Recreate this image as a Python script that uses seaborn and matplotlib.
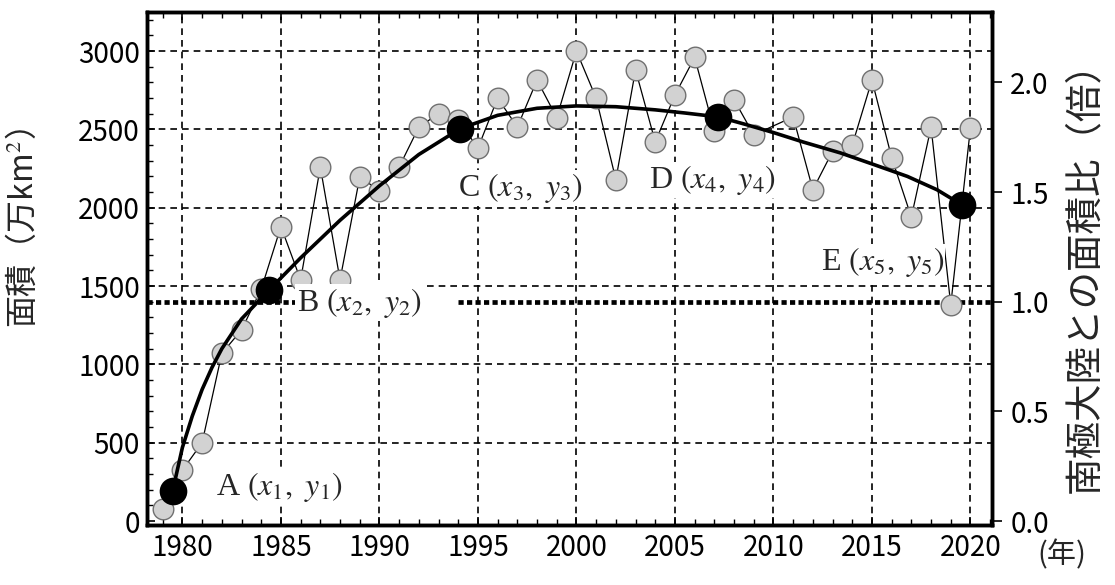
import numpy as np
import seaborn as sns
import matplotlib.pyplot as plt
from matplotlib.ticker import MultipleLocator

# annual values (2010 not visible in the scan)
years = [1979, 1980, 1981, 1982, 1983, 1984, 1985, 1986, 1987, 1988,
         1989, 1990, 1991, 1992, 1993, 1994, 1995, 1996, 1997, 1998,
         1999, 2000, 2001, 2002, 2003, 2004, 2005, 2006, 2007, 2008,
         2009, 2011, 2012, 2013, 2014, 2015, 2016, 2017, 2018, 2019, 2020]
area = [80, 325, 500, 1070, 1220, 1480, 1880, 1540, 2260, 1540,
        2195, 2110, 2260, 2515, 2600, 2560, 2380, 2700, 2515, 2815,
        2575, 3000, 2700, 2180, 2880, 2420, 2720, 2960, 2490, 2690,
        2465, 2580, 2115, 2360, 2400, 2815, 2320, 1940, 2515, 1380, 2510]

# smooth trend curve, read at several points
fit_x = [1979.5, 1980.0, 1980.5, 1981.0, 1981.5, 1982.0, 1983.0, 1984.4,
         1986.0, 1988.0, 1990.0, 1992.0, 1994.1, 1996.0, 1998.0,
         2000.0, 2002.0, 2004.0, 2005.5, 2007.2, 2008.5, 2010.0, 2011.5,
         2013.4, 2015.0, 2016.8, 2018.3, 2019.55]
fit_y = [190, 470, 670, 840, 980, 1100, 1290, 1475,
         1680, 1920, 2140, 2340, 2505, 2590, 2635,
         2650, 2645, 2625, 2605, 2580, 2535, 2480, 2420,
         2350, 2280, 2200, 2115, 2020]

# points A-E
key_names = ['A', 'B', 'C', 'D', 'E']
key_x = [1979.5, 1984.4, 1994.1, 2007.2, 2019.55]
key_y = [190, 1475, 2505, 2580, 2020]
label_x = [1981.7, 1985.8, 1994.0, 2003.7, 2012.4]
label_y = [217, 1395, 2126, 2177, 1654]

antarctica = 1400  # ratio 1.0

sns.set_style('ticks')
plt.rcParams['font.family'] = ['Noto Sans CJK JP', 'DejaVu Sans']
plt.rcParams['mathtext.fontset'] = 'stix'

fig = plt.figure(figsize=(11.15, 5.85), dpi=100)
ax = fig.add_axes([0.1318, 0.1026, 0.758, 0.877])

ax.set_xlim(1978.2, 2021.1)
ax.set_ylim(-25, 3250)

# grid
for v in range(500, 3001, 500):
    ax.axhline(v, color='black', lw=1.2, ls=(0, (4, 3)), zorder=1)
for v in range(1980, 2021, 5):
    ax.axvline(v, color='black', lw=1.2, ls=(0, (4, 3)), zorder=1)
# antarctic continent area (ratio 1.0), broken behind label B
ax.hlines([antarctica, antarctica], [1978.2, 1994.0], [1985.9, 2021.1],
          color='black', lw=3.4, ls=(0, (1.1, 0.7)), zorder=1)

sns.lineplot(x=years, y=area, ax=ax, color='black', lw=0.9, zorder=2)
sns.scatterplot(x=years, y=area, ax=ax, s=220, color='#d2d2d2',
                edgecolor='#707070', linewidth=1.0, zorder=3)
sns.lineplot(x=fit_x, y=fit_y, ax=ax, color='black', lw=2.6, zorder=4)
sns.scatterplot(x=key_x, y=key_y, ax=ax, s=340, color='black',
                edgecolor='black', zorder=5)

for i, n in enumerate(key_names):
    ax.text(label_x[i], label_y[i], n + r' $(x_{%d},\ y_{%d})$' % (i + 1, i + 1),
            family='Liberation Serif', fontsize=23, va='center', ha='left',
            zorder=6, bbox=dict(facecolor='white', edgecolor='none', pad=1.0))

ax.set_xticks(range(1980, 2021, 5))
ax.set_yticks(range(0, 3001, 500))
ax.xaxis.set_minor_locator(MultipleLocator(1))
ax.yaxis.set_minor_locator(MultipleLocator(100))
ax.tick_params(axis='both', which='major', direction='in', length=6, width=1.2,
               labelsize=20, top=True, colors='black')
ax.tick_params(axis='both', which='minor', direction='in', length=4, width=1,
               top=True, colors='black')
ax.tick_params(axis='x', pad=6)
ax.tick_params(axis='y', pad=5)
for s in ax.spines.values():
    s.set_linewidth(2.5)
    s.set_color('black')

ax2 = ax.twinx()
ax2.set_ylim(-25 / antarctica, 3250 / antarctica)
ax2.set_yticks([0, 0.5, 1.0, 1.5, 2.0])
ax2.set_yticklabels(['0.0', '0.5', '1.0', '1.5', '2.0'])
ax2.tick_params(axis='y', direction='out', length=7, width=1.2, labelsize=20,
                colors='black', pad=6)
for s in ax2.spines.values():
    s.set_linewidth(2.5)
    s.set_color('black')

fig.text(0.02, 1 - 228 / 585, '面積（万km$^2$）', rotation=90, fontsize=23,
         ha='center', va='center')
fig.text(0.973, 1 - 268 / 585, '南極大陸との面積比（倍）', rotation=90,
         fontsize=27, ha='center', va='center')
fig.text(0.952, 1 - 555 / 585, '(年)', fontsize=21, ha='center', va='center')

fig.savefig('out.png', dpi=100, facecolor='white')
